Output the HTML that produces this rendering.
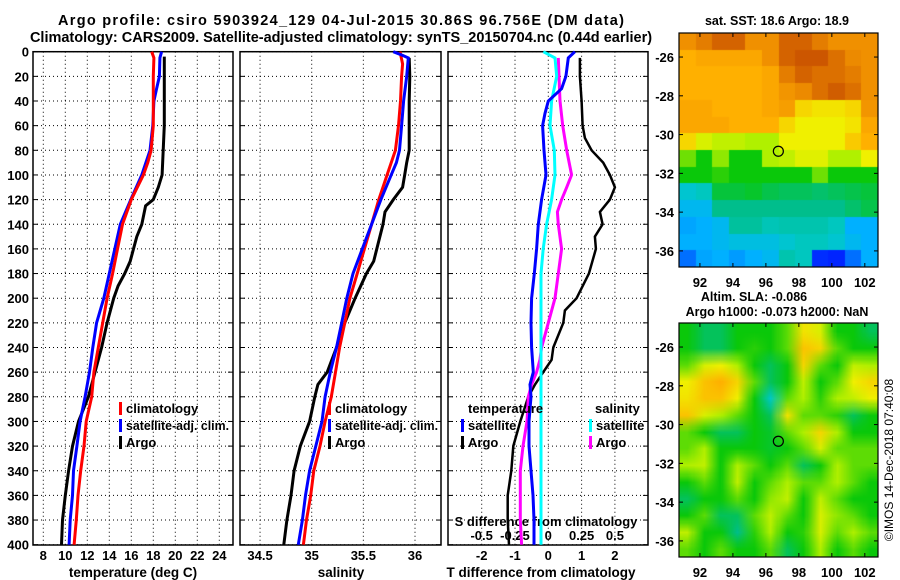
<!DOCTYPE html>
<html><head><meta charset="utf-8">
<style>
html,body{margin:0;padding:0;background:#fff;}
#wrap{position:relative;width:900px;height:580px;overflow:hidden;font-family:"Liberation Sans",sans-serif;}
svg{position:absolute;left:0;top:0;}
canvas{position:absolute;}
text{font-family:"Liberation Sans",sans-serif;font-weight:bold;fill:#000;}
</style></head>
<body>
<div id="wrap">
<canvas id="sstMap" style="left:679px;top:33px" width="199" height="234"></canvas>
<canvas id="slaMap" style="left:679px;top:323px" width="199" height="234"></canvas>
<svg id="fig" width="900" height="580" xmlns="http://www.w3.org/2000/svg">
<text x="58" y="25" font-size="14.5" textLength="566" lengthAdjust="spacing">Argo profile: csiro 5903924_129 04-Jul-2015 30.86S 96.756E (DM data)</text>
<text x="341" y="42" font-size="14.5" text-anchor="middle">Climatology: CARS2009. Satellite-adjusted climatology: synTS_20150704.nc (0.44d earlier)</text>
<text x="777" y="25" font-size="12.5" text-anchor="middle">sat. SST: 18.6 Argo: 18.9</text>
<text x="754" y="301" font-size="12.5" text-anchor="middle">Altim. SLA: -0.086</text>
<text x="777" y="316" font-size="12.5" text-anchor="middle">Argo h1000: -0.073 h2000: NaN</text>
<text x="0" y="0" font-size="12" text-anchor="middle" transform="translate(893,460) rotate(-90)" style="font-weight:normal">©IMOS 14-Dec-2018 07:40:08</text>
</svg>
</div>
<script>
// ---- data ----
const depthTicks = [0,20,40,60,80,100,120,140,160,180,200,220,240,260,280,300,320,340,360,380,400];
const tempTicks = [8,10,12,14,16,18,20,22,24];
const salTicks = [34.5,35,35.5,36];
const salTickLabels = ["34.5","35","35.5","36"];
const tdiffTicks = [-2,-1,0,1,2];
const sdiffTicks = [-0.5,-0.25,0,0.25,0.5];
const sdiffTickLabels = ["-0.5","-0.25","0","0.25","0.5"];

const tempClimDepth = [0,5,20,40,60,80,90,100,120,140,160,180,200,220,240,260,280,300,320,340,360,380,400];
const tempClimVal = [17.85,18.05,18.0,18.0,18.0,17.8,17.5,17.1,16.0,15.2,14.75,14.3,13.8,13.4,13.0,12.6,12.4,11.9,11.7,11.4,11.15,11.0,10.8];
const tempSatDepth = [0,5,20,30,40,60,80,100,120,140,160,180,200,220,240,260,280,300,320,340,360,380,400];
const tempSatVal = [18.75,18.6,18.55,18.3,18.05,17.95,17.7,16.95,15.95,15.0,14.5,14.0,13.5,12.85,12.5,12.2,11.8,11.35,11.05,10.75,10.65,10.45,10.35];
const tempArgoDepth = [4,20,40,60,80,100,110,120,125,140,150,160,170,180,190,200,220,240,260,280,300,320,340,360,380,400];
const tempArgoVal = [19.0,19.0,19.0,19.0,18.9,18.8,18.45,18.0,17.3,16.95,16.5,16.2,15.9,15.4,14.8,14.4,13.8,13.3,12.7,12.1,11.2,10.65,10.3,10.0,9.75,9.65];

const salClimDepth = [0,10,20,40,60,80,100,120,140,160,180,200,220,240,260,280,300,320,340,360,380,400];
const salClimVal = [35.855,35.88,35.87,35.86,35.84,35.81,35.73,35.65,35.58,35.51,35.44,35.37,35.32,35.27,35.23,35.19,35.13,35.08,35.02,34.99,34.95,34.92];
const salSatDepth = [0,3,5,20,40,60,80,90,100,120,140,160,180,200,220,240,260,280,300,320,340,360,380,400];
const salSatVal = [35.79,35.88,35.935,35.92,35.89,35.87,35.85,35.82,35.77,35.67,35.58,35.49,35.40,35.34,35.29,35.24,35.18,35.13,35.10,35.04,34.98,34.94,34.91,34.87];
const salArgoDepth = [5,20,40,60,80,90,100,110,120,130,140,160,170,180,200,220,240,260,270,280,300,320,340,360,380,400];
const salArgoVal = [35.944,35.95,35.944,35.944,35.944,35.92,35.90,35.88,35.79,35.71,35.69,35.63,35.60,35.53,35.42,35.32,35.24,35.15,35.06,35.03,34.98,34.89,34.83,34.80,34.76,34.73];

const dTsatDepth = [0,5,20,30,40,50,60,80,100,120,140,160,180,200,220,240,260,270,280,300,320,340,360,380,400];
const dTsatVal = [0.8,0.6,0.53,0.4,0,-0.1,-0.17,-0.13,-0.07,-0.2,-0.3,-0.35,-0.42,-0.5,-0.52,-0.5,-0.45,-0.55,-0.52,-0.58,-0.58,-0.52,-0.46,-0.43,-0.43];
const dTargoDepth = [5,20,40,60,70,80,90,100,110,120,130,140,150,160,180,200,210,220,240,250,260,270,280,300,320,340,360,380,400];
const dTargoVal = [0.95,0.95,1.0,1.03,1.1,1.3,1.65,1.85,2.0,1.85,1.55,1.63,1.4,1.43,1.22,0.85,0.5,0.45,0.15,0.1,-0.15,-0.4,-0.6,-0.84,-1.05,-1.11,-1.22,-1.22,-1.18];
const dSsatDepth = [0,5,20,40,60,80,100,120,140,160,180,400];
const dSsatVal = [-0.0375,0.05,0.063,0.025,0.013,0.045,0.05,0.025,-0.013,-0.038,-0.055,-0.055];
const dSargoDepth = [5,40,60,80,100,110,120,130,140,160,180,200,220,240,250,260,270,280,300,320,340,360,380,400];
const dSargoVal = [0.075,0.088,0.108,0.138,0.175,0.138,0.1,0.068,0.075,0.1,0.075,0.05,0,-0.05,-0.063,-0.088,-0.125,-0.15,-0.16,-0.19,-0.21,-0.21,-0.21,-0.2];

const lonTicks = [92,94,96,98,100,102];
const latTicks = [-26,-28,-30,-32,-34,-36];
const latTickLabels = ["-26","-28","-30","-32","-34","-36"];
const floatLon = 96.756;
const floatLat = -30.86;
const sstGrid = [
[0.85,0.88,0.92,0.92,0.85,0.85,0.92,0.92,0.88,0.85,0.85,0.85],
[0.78,0.8,0.8,0.8,0.8,0.85,0.92,0.94,0.94,0.9,0.86,0.85],
[0.78,0.78,0.78,0.78,0.78,0.8,0.88,0.92,0.9,0.9,0.88,0.85],
[0.78,0.78,0.78,0.78,0.78,0.8,0.84,0.86,0.9,0.93,0.9,0.85],
[0.8,0.8,0.78,0.78,0.78,0.8,0.82,0.72,0.7,0.7,0.72,0.84],
[0.8,0.8,0.8,0.78,0.78,0.78,0.72,0.68,0.68,0.68,0.7,0.8],
[0.72,0.65,0.62,0.62,0.6,0.6,0.68,0.68,0.68,0.68,0.74,0.78],
[0.56,0.5,0.58,0.5,0.5,0.6,0.62,0.66,0.66,0.6,0.6,0.68],
[0.5,0.5,0.52,0.5,0.5,0.5,0.5,0.5,0.56,0.5,0.5,0.5],
[0.34,0.36,0.47,0.47,0.48,0.46,0.45,0.45,0.44,0.45,0.46,0.47],
[0.3,0.3,0.42,0.42,0.42,0.42,0.42,0.42,0.42,0.42,0.44,0.46],
[0.27,0.28,0.3,0.4,0.4,0.37,0.38,0.38,0.38,0.36,0.28,0.28],
[0.28,0.28,0.3,0.32,0.32,0.32,0.34,0.36,0.36,0.34,0.3,0.28],
[0.22,0.27,0.28,0.26,0.28,0.3,0.38,0.36,0.1,0.08,0.22,0.28]];
const slaGrid = [
[0.5,0.45,0.45,0.5,0.5,0.5,0.55,0.7,0.65,0.5,0.5,0.45],
[0.5,0.45,0.45,0.5,0.52,0.5,0.55,0.75,0.72,0.55,0.5,0.5],
[0.55,0.65,0.68,0.6,0.5,0.45,0.5,0.72,0.55,0.5,0.62,0.6],
[0.68,0.75,0.78,0.72,0.55,0.45,0.5,0.62,0.5,0.55,0.68,0.72],
[0.7,0.75,0.75,0.68,0.5,0.35,0.55,0.6,0.52,0.6,0.62,0.68],
[0.75,0.65,0.6,0.55,0.5,0.45,0.7,0.55,0.55,0.52,0.45,0.5],
[0.55,0.5,0.45,0.45,0.5,0.48,0.55,0.6,0.72,0.6,0.5,0.5],
[0.55,0.6,0.5,0.5,0.5,0.48,0.5,0.55,0.65,0.55,0.55,0.55],
[0.6,0.62,0.5,0.6,0.55,0.5,0.55,0.45,0.5,0.6,0.55,0.55],
[0.5,0.55,0.5,0.62,0.5,0.55,0.6,0.55,0.55,0.6,0.55,0.5],
[0.45,0.5,0.5,0.55,0.5,0.58,0.62,0.5,0.62,0.55,0.5,0.5],
[0.5,0.55,0.45,0.45,0.55,0.62,0.55,0.5,0.65,0.58,0.55,0.5],
[0.62,0.5,0.5,0.42,0.52,0.6,0.5,0.52,0.65,0.55,0.6,0.55],
[0.55,0.5,0.55,0.5,0.5,0.55,0.45,0.5,0.6,0.5,0.55,0.5]];

// ---- scales ----
const yD = d => 51.7 + d*1.2325;
const xT = t => 43.3 + (t-8)*11;
const xS = s => 311.7 + (s-35)*103.3;
const xDT = t => 548.3 + t*33.3;
const xDS = s => 548.3 + s*133.3;
const MAP = {x0:679, x1:878, lon0:90.73, lon1:102.8, lat0:-24.76, lat1:-36.83};
const xLon = lon => MAP.x0 + (lon-MAP.lon0)/(MAP.lon1-MAP.lon0)*(MAP.x1-MAP.x0);
const yLat = (lat, top) => top + (lat-MAP.lat0)/(MAP.lat1-MAP.lat0)*234;

const NS = "http://www.w3.org/2000/svg";
const svg = document.getElementById('fig');
function mk(tag, attrs, parent){
  const e = document.createElementNS(NS, tag);
  for (const k in attrs) e.setAttribute(k, attrs[k]);
  (parent||svg).appendChild(e);
  return e;
}

const panels = [
  {name:'temperature', x0:33, x1:233, ticks:tempTicks, labels:tempTicks.map(String), sx:xT, title:'temperature (deg C)', tx:133, ylab:true},
  {name:'salinity', x0:240, x1:441, ticks:salTicks, labels:salTickLabels, sx:xS, title:'salinity', tx:341, ylab:false},
  {name:'difference', x0:448, x1:648, ticks:tdiffTicks, labels:tdiffTicks.map(String), sx:xDT, title:'T difference from climatology', tx:541, ylab:false}
];
const top0 = 51.7, bot0 = 545;
panels.forEach(p=>{
  const g = mk('g', {});
  
  
  p.ticks.forEach((t,i)=>{
    const x = p.sx(t);
    const l = mk('line', {x1:x, x2:x, y1:top0, y2:bot0, stroke:'#000', 'stroke-width':1, 'stroke-dasharray':'1 3'}, g);
    
    
    const tx = mk('text', {x:x, y:560, 'font-size':13, 'text-anchor':'middle'}, g);
    
    
    tx.textContent = p.labels[i];
  });
  depthTicks.forEach(d=>{
    const y = yD(d);
    const l = mk('line', {x1:p.x0, x2:p.x1, y1:y, y2:y, stroke:'#000', 'stroke-width':1, 'stroke-dasharray':'1 3'}, g);
    
    
    mk('line', {x1:p.x0, x2:p.x0+5, y1:y, y2:y, stroke:'#000', 'stroke-width':1}, g);
    mk('line', {x1:p.x1-5, x2:p.x1, y1:y, y2:y, stroke:'#000', 'stroke-width':1}, g);
    if (p.ylab){
      const tx = mk('text', {x:29, y:y+5, 'font-size':13, 'text-anchor':'end'}, g);
      
      
      tx.textContent = d;
    }
  });
  const fr = mk('rect', {x:p.x0, y:top0, width:p.x1-p.x0, height:bot0-top0, fill:'none', stroke:'#000', 'stroke-width':1.5}, g);
  
  
  const tt = mk('text', {x:p.tx, y:577, 'font-size':13.5, 'text-anchor':'middle'}, g);
  
  
  tt.textContent = p.title;
});

const sdt = mk('text', {x:546, y:526, 'font-size':13, 'text-anchor':'middle'});


sdt.textContent = 'S difference from climatology';
sdiffTicks.forEach((s,i)=>{
  const t = mk('text', {x:xDS(s), y:540, 'font-size':13, 'text-anchor':'middle'});
  
  
  t.textContent = sdiffTickLabels[i];
});

function line(depths, vals, sx, color, w, name){
  const pts = depths.map((d,i)=> sx(vals[i]).toFixed(1)+','+yD(d).toFixed(1)).join(' ');
  const pl = mk('polyline', {points:pts, fill:'none', stroke:color, 'stroke-width':w, 'stroke-linejoin':'miter'});
  
  
}
line(tempArgoDepth, tempArgoVal, xT, '#000', 3, 'temp-argo-line');
line(tempSatDepth, tempSatVal, xT, '#0000ff', 3, 'temp-satellite-line');
line(tempClimDepth, tempClimVal, xT, '#ff0000', 3, 'temp-climatology-line');
line(salArgoDepth, salArgoVal, xS, '#000', 3, 'sal-argo-line');
line(salClimDepth, salClimVal, xS, '#ff0000', 3, 'sal-climatology-line');
line(salSatDepth, salSatVal, xS, '#0000ff', 3, 'sal-satellite-line');
line(dTargoDepth, dTargoVal, xDT, '#000', 2.5, 'tdiff-argo-line');
line(dSargoDepth, dSargoVal, xDS, '#ff00ff', 3, 'sdiff-argo-line');
line(dSsatDepth, dSsatVal, xDS, '#00ffff', 3, 'sdiff-satellite-line');
line(dTsatDepth, dTsatVal, xDT, '#0000ff', 3, 'tdiff-satellite-line');

function legend(x, y, color, label, name, len){
  const g = mk('g', {});
  
  
  mk('rect', {x:x, y:y-11, width:3, height:13, fill:color}, g);
  const t = mk('text', {x:x+7, y:y, 'font-size':13}, g);
  if (len) { t.setAttribute('textLength', len); t.setAttribute('lengthAdjust', 'spacingAndGlyphs'); }
  t.textContent = label;
}
legend(119, 413, '#ff0000', 'climatology', 'legend-temp-climatology');
legend(119, 430, '#0000ff', 'satellite-adj. clim.', 'legend-temp-satellite', 103);
legend(119, 447, '#000', 'Argo', 'legend-temp-argo');
legend(328, 413, '#ff0000', 'climatology', 'legend-sal-climatology');
legend(328, 430, '#0000ff', 'satellite-adj. clim.', 'legend-sal-satellite', 103);
legend(328, 447, '#000', 'Argo', 'legend-sal-argo');
const lt1 = mk('text', {x:468, y:413, 'font-size':13});


lt1.textContent = 'temperature';
const lt2 = mk('text', {x:595, y:413, 'font-size':13});


lt2.textContent = 'salinity';
legend(461, 430, '#0000ff', 'satellite', 'legend-tdiff-satellite');
legend(461, 447, '#000', 'Argo', 'legend-tdiff-argo');
legend(589, 430, '#00ffff', 'satellite', 'legend-sdiff-satellite');
legend(589, 447, '#ff00ff', 'Argo', 'legend-sdiff-argo');

const cmStops = [[0,[0,0,255]],[0.2,[0,90,255]],[0.28,[0,176,255]],[0.35,[0,200,200]],[0.42,[0,190,140]],[0.5,[10,200,10]],[0.6,[176,240,0]],[0.68,[240,240,0]],[0.78,[255,176,0]],[0.85,[240,144,0]],[0.95,[200,80,0]],[1,[180,50,0]]];
function cmap(v){
  for (let i=1;i<cmStops.length;i++){
    if (v<=cmStops[i][0]){
      const a=cmStops[i-1], b=cmStops[i], f=(v-a[0])/(b[0]-a[0]);
      return 'rgb('+a[1].map((c,k)=>Math.round(c+(b[1][k]-c)*f)).join(',')+')';
    }
  }
  return 'rgb(180,50,0)';
}
function drawMap(id, grid, smooth){
  const c = document.getElementById(id), ctx = c.getContext('2d');
  const rows = grid.length, cols = grid[0].length;
  const small = document.createElement('canvas');
  small.width = cols; small.height = rows;
  const sc = small.getContext('2d');
  grid.forEach((row,r)=>row.forEach((v,k)=>{ sc.fillStyle = cmap(v); sc.fillRect(k,r,1,1); }));
  ctx.imageSmoothingEnabled = smooth;
  ctx.drawImage(small, 0, 0, c.width, c.height);
}
drawMap('sstMap', sstGrid, false);
drawMap('slaMap', slaGrid, true);

[33, 323].forEach((top, mi)=>{
  const nm = mi===0 ? 'sst-map' : 'sla-map';
  const g = mk('g', {});
  
  
  mk('rect', {x:MAP.x0, y:top, width:MAP.x1-MAP.x0, height:234, fill:'none', stroke:'#000', 'stroke-width':1.2}, g);
  lonTicks.forEach(lon=>{
    const x = xLon(lon);
    mk('line', {x1:x, x2:x, y1:top, y2:top+4, stroke:'#000'}, g);
    mk('line', {x1:x, x2:x, y1:top+234-4, y2:top+234, stroke:'#000'}, g);
    const t = mk('text', {x:x, y:top+254, 'font-size':13, 'text-anchor':'middle'}, g);
    
    
    t.textContent = lon;
  });
  latTicks.forEach((lat,i)=>{
    const y = yLat(lat, top);
    mk('line', {x1:MAP.x1-4, x2:MAP.x1, y1:y, y2:y, stroke:'#000'}, g);
    mk('line', {x1:MAP.x0, x2:MAP.x0+4, y1:y, y2:y, stroke:'#000'}, g);
    const t = mk('text', {x:674, y:y+5, 'font-size':13, 'text-anchor':'end'}, g);
    
    
    t.textContent = latTickLabels[i];
  });
  const c = mk('circle', {cx:xLon(floatLon), cy:yLat(floatLat, top), r:5, fill:'none', stroke:'#000', 'stroke-width':1.2}, g);
  
  
});
</script>
</body></html>
